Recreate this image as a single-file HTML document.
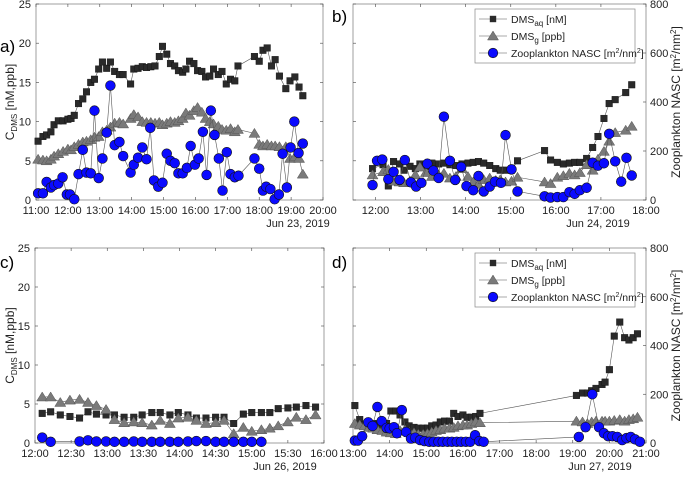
<!DOCTYPE html>
<html><head><meta charset="utf-8">
<style>
body{margin:0;background:#fff;}
svg{font-family:"Liberation Sans",sans-serif;}
</style></head>
<body>
<svg id="fig" width="685" height="476" viewBox="0 0 685 476" xmlns="http://www.w3.org/2000/svg"></svg>
<script>
// ---- Panel a (minutes after 11:00; DMS in nM/ppb; NASC scaled to left axis) ----
const aTimes = [4,13,20,28,34,42,51,60,66,72,80,88,95,103,110,118,125,133,140,148,157,164,178,184,192,200,208,216,224,232,238,246,253,261,268,276,282,289,297,304,312,319,327,334,343,350,358,366,374,380,411,420,427,435,443,450,458,470,478,487,495,502];
const aDmsAq = [7.5,8.1,8.3,8.7,9.6,10.1,10.1,10.3,10.4,10.8,12.3,12.9,13.8,15.0,15.4,16.7,17.6,16.8,17.6,16.4,16.0,16.0,14.8,16.7,16.8,17.0,16.9,17.0,17.1,18.3,19.6,18.6,17.4,17.1,16.5,16.3,16.7,17.7,17.4,16.5,16.4,15.7,15.8,16.7,16.0,16.4,14.8,15.4,15.2,17.1,18.3,17.7,19.1,19.4,17.1,17.9,15.8,14.2,15.2,15.7,14.4,13.3];
const aDmsG = [5.2,5.1,5.0,5.2,5.6,5.9,6.2,6.5,6.4,6.8,7.1,7.4,7.5,7.7,8.0,8.1,8.7,8.9,9.3,9.8,9.9,9.7,10.4,10.9,10.6,10.0,9.9,9.9,9.8,9.9,9.6,9.8,10.0,9.9,10.1,10.4,11.1,10.8,11.4,11.8,11.2,10.4,10.0,9.7,9.4,9.0,8.9,9.1,8.7,9.0,8.5,7.1,6.9,7.1,6.9,6.9,6.8,6.8,5.3,5.5,5.3,3.3];
const aZooTimes = [4,13,20,28,34,42,50,58,64,72,80,88,95,103,110,118,125,133,140,148,157,164,178,184,192,200,208,215,222,230,238,246,253,261,268,276,284,291,299,306,314,321,329,336,344,351,359,366,374,381,411,420,427,433,441,449,457,464,472,479,486,494,502];
const aZoo = [0.85,0.85,2.3,1.6,1.9,2.1,2.9,0.7,0.7,0.1,3.3,6.4,3.5,3.4,11.4,2.8,5.3,8.6,14.6,7.0,7.4,5.6,3.5,4.5,5.4,6.7,5.2,9.2,2.5,1.7,2.2,5.9,5.0,4.7,3.4,3.4,4.1,6.9,4.5,5.3,8.7,3.2,11.4,8.3,5.3,1.2,6.1,3.3,2.9,3.1,5.3,4.0,1.2,1.7,1.4,0.1,0.7,5.9,1.6,6.7,10.0,6.0,7.2];
// ---- Panel b (minutes after 11:30; DMS nM; NASC m2/nm2) ----
const bTimes = [26,40,47,54,62,68,76,83,89,97,105,114,121,129,137,145,153,160,167,174,182,190,196,203,211,219,255,263,272,280,288,295,302,311,319,326,334,341,349,363,371];
const bDmsAq = [4.0,4.5,1.8,4.9,4.6,3.8,4.3,4.0,4.6,4.3,4.7,4.6,4.7,4.5,4.4,4.6,4.7,4.8,4.9,4.7,4.4,4.0,3.8,3.8,3.8,5.0,6.3,5.1,4.8,4.6,4.7,4.8,4.8,5.3,6.7,8.1,10.4,12.3,12.8,13.7,14.7];
const bDmsG = [3.2,3.6,3.9,2.4,2.3,2.2,2.4,3.2,4.2,3.5,3.0,3.2,3.4,2.8,3.0,4.0,3.0,2.3,2.0,2.6,2.8,2.5,2.6,2.3,2.4,2.9,2.3,2.1,2.9,3.1,3.4,3.2,3.5,4.5,3.8,5.2,6.2,7.5,8.6,8.9,9.4];
const bZooTimes = [26,32,39,47,54,62,69,77,84,91,99,107,114,121,129,136,144,151,160,167,174,182,189,197,203,211,219,255,263,272,280,288,295,302,311,319,326,334,341,349,357,364,371];
const bZoo = [61,160,165,85,115,82,163,72,55,70,148,120,90,340,160,82,135,57,40,98,35,55,75,70,265,125,35,15,10,12,12,32,25,40,50,152,140,150,270,158,75,172,100];
// ---- Panel c (minutes after 12:00) ----
const cTimes = [6,13,21,29,37,44,51,59,66,74,82,89,97,104,112,119,127,134,142,150,157,165,173,180,188,195,202,210,217,225,233];
const cDmsAq = [3.8,4.0,3.6,3.4,3.2,4.0,3.7,3.6,3.6,3.3,3.3,3.6,3.9,3.9,3.6,3.9,3.6,3.2,3.2,3.3,3.3,2.5,3.7,3.9,3.9,3.9,4.4,4.5,4.6,4.8,4.6];
const cDmsG = [5.9,5.9,5.2,5.5,5.6,5.2,4.8,4.3,3.0,2.6,2.7,2.6,2.3,2.9,2.5,3.2,3.3,2.9,2.5,2.6,2.9,1.2,2.0,1.5,1.7,1.9,2.2,2.7,3.3,3.0,3.6];
const cZooTimes = [6,13,37,44,51,59,66,74,82,89,97,104,112,119,127,134,142,150,157,165,173,180,188];
const cZoo = [0.7,0.15,0.2,0.35,0.2,0.2,0.15,0.15,0.2,0.15,0.15,0.15,0.15,0.15,0.2,0.25,0.25,0.15,0.15,0.15,0.15,0.15,0.15];
// ---- Panel d (minutes after 13:00; DMS nM; NASC m2/nm2) ----
const dTimes = [3,11,19,26,33,40,48,55,62,70,77,85,92,100,107,115,122,129,136,143,150,158,165,172,180,187,194,201,208,366,376,384,391,398,408,413,420,428,437,445,452,459,466];
const dDmsAq = [4.8,3.0,2.3,2.2,2.5,2.3,2.2,2.5,4.1,4.1,3.6,2.7,2.2,2.0,1.9,1.9,1.9,2.2,2.3,2.7,2.8,2.8,3.8,3.4,3.6,3.3,3.3,3.4,3.8,6.1,6.4,6.4,6.7,7.0,7.5,7.8,9.4,13.7,15.5,13.5,13.2,13.5,14.0];
const dDmsG = [2.5,2.3,2.2,2.0,1.9,1.7,1.6,1.4,1.3,1.2,1.6,1.7,1.4,1.3,1.1,1.1,1.2,1.4,1.6,1.7,1.9,1.9,2.0,2.2,2.3,2.3,2.5,2.7,2.6,2.8,2.7,2.5,2.7,2.8,2.8,2.8,2.8,2.9,3.0,2.8,3.0,3.1,3.3];
const dZooTimes = [3,8,15,25,32,40,47,55,60,67,72,80,87,95,102,110,117,125,132,140,147,155,162,170,177,185,192,200,207,214,370,381,392,403,411,418,425,433,441,448,455,462,470];
const dZoo = [10,10,28,85,70,148,90,62,60,65,40,135,45,18,22,12,8,5,5,5,5,5,5,5,5,5,5,32,8,5,25,65,200,65,40,28,28,25,12,20,25,15,5];

const leftTicks = [0,5,10,15,20,25];
const rightTicks = [0,200,400,600,800];

const NS = "http://www.w3.org/2000/svg";
const svg = document.getElementById('fig');
function mk(tag, attrs, parent){const e=document.createElementNS(NS,tag);for(const k in attrs)e.setAttribute(k,attrs[k]);(parent||svg).appendChild(e);return e;}

function panel(cfg){
  const g = mk('g',{});
  
  
  const {x0,x1,y0,y1,tmin,tmax,start} = cfg;
  const X = m => x0 + (start*60 + m - tmin*60)/((tmax-tmin)*60)*(x1-x0);
  const YL = v => y1 - v/25*(y1-y0);
  const YR = v => y1 - v/800*(y1-y0);
  const frame = mk('rect',{x:x0,y:y0,width:x1-x0,height:y1-y0,fill:'#fff',stroke:'#888','stroke-width':0.8},g);
  
  
  cfg.xticks.forEach(t=>{
    const px = x0 + (t.h - tmin)/(tmax-tmin)*(x1-x0);
    mk('line',{x1:px,x2:px,y1:y1,y2:y1-3,stroke:'#444','stroke-width':0.6},g);
    mk('line',{x1:px,x2:px,y1:y0,y2:y0+3,stroke:'#444','stroke-width':0.6},g);
    const tx = mk('text',{x:px,y:y1+14,'font-size':11,'text-anchor':'middle',fill:'#222'},g);
    tx.textContent = t.l;
    
    
  });
  const dl = mk('text',{x:cfg.dateX,y:y1+27,'font-size':11,'text-anchor':'middle',fill:'#222'},g);
  dl.textContent = cfg.date;
  
  
  leftTicks.forEach(v=>{
    const py = YL(v);
    mk('line',{x1:x0,x2:x0+3,y1:py,y2:py,stroke:'#444','stroke-width':0.6},g);
    if(!cfg.right){
      const tx = mk('text',{x:x0-5,y:py+4,'font-size':11,'text-anchor':'end',fill:'#222'},g);
      tx.textContent = v;
      
      
    }
  });
  if(cfg.right){
    rightTicks.forEach(v=>{
      const py = YR(v);
      mk('line',{x1:x1,x2:x1-3,y1:py,y2:py,stroke:'#444','stroke-width':0.6},g);
      const tx = mk('text',{x:x1+4,y:py+4,'font-size':11,'text-anchor':'start',fill:'#222'},g);
      tx.textContent = v;
      
      
    });
  } else {
    leftTicks.forEach(v=>{const py=YL(v);mk('line',{x1:x1,x2:x1-3,y1:py,y2:py,stroke:'#444','stroke-width':0.6},g);});
  }
  const zY = cfg.right ? YR : YL;
  function series(times, vals, Y, kind, name){
    const pts = times.map((t,i)=>[X(t),Y(vals[i])]);
    const pl = mk('polyline',{points:pts.map(p=>p.join(',')).join(' '),fill:'none',stroke:'#555','stroke-width':0.6},g);
    
    
    pts.forEach(p=>{
      let m;
      if(kind==='sq') m = mk('rect',{x:p[0]-3.3,y:p[1]-3.3,width:6.6,height:6.6,fill:'#2a2a2a',stroke:'#111','stroke-width':0.4},g);
      else if(kind==='tri') m = mk('polygon',{points:`${p[0]},${p[1]-5} ${p[0]-5.5},${p[1]+4} ${p[0]+5.5},${p[1]+4}`,fill:'#7a7a7a',stroke:'#555','stroke-width':0.5},g);
      else m = mk('circle',{cx:p[0],cy:p[1],r:4.9,fill:'#0a0aff',stroke:'#111','stroke-width':0.6},g);
      
      
    });
  }
  series(cfg.t, cfg.aq, YL, 'sq', 'dms-aq');
  series(cfg.t, cfg.g, YL, 'tri', 'dms-g');
  series(cfg.zt, cfg.z, zY, 'circ', 'zooplankton-nasc');
  const lt = mk('text',{x:cfg.letterX,y:cfg.letterY,'font-size':17,fill:'#000'},g);
  lt.textContent = cfg.letter;
  
  
  if(!cfg.right){
    const cy=(y0+y1)/2;
    const yl = mk('text',{x:14,y:cy,'font-size':12,'text-anchor':'middle',fill:'#222',transform:`rotate(-90 14 ${cy})`},g);
    yl.innerHTML = 'C<tspan font-size="8" dy="3">DMS</tspan><tspan dy="-3"> [nM,ppb]</tspan>';
    
    
  } else {
    const cy=(y0+y1)/2;
    const yl = mk('text',{x:680,y:cy,'font-size':12,'text-anchor':'middle',fill:'#222',transform:`rotate(-90 680 ${cy})`},g);
    yl.innerHTML = 'Zooplankton NASC [m<tspan font-size="8" dy="-4">2</tspan><tspan dy="4">/nm</tspan><tspan font-size="8" dy="-4">2</tspan><tspan dy="4">]</tspan>';
    
    
    const lg = mk('g',{},g);
    
    
    const lx=475, ly=y0+5;
    mk('rect',{x:lx,y:ly,width:160,height:54,fill:'#fff',stroke:'#888','stroke-width':0.7},lg);
    const rows=[['sq','DMS<tspan font-size="8" dy="3">aq</tspan><tspan dy="-3"> [nM]</tspan>'],['tri','DMS<tspan font-size="8" dy="3">g</tspan><tspan dy="-3"> [ppb]</tspan>'],['circ','Zooplankton NASC [m<tspan font-size="7" dy="-4">2</tspan><tspan dy="4">/nm</tspan><tspan font-size="7" dy="-4">2</tspan><tspan dy="4">]</tspan>']];
    rows.forEach((r,i)=>{
      const yy=ly+10+i*17, cx=lx+18;
      const e = mk('g',{},lg);
      
      
      mk('line',{x1:lx+4,x2:lx+32,y1:yy,y2:yy,stroke:'#555','stroke-width':0.6},e);
      if(r[0]==='sq') mk('rect',{x:cx-3.2,y:yy-3.2,width:6.4,height:6.4,fill:'#2a2a2a'},e);
      else if(r[0]==='tri') mk('polygon',{points:`${cx},${yy-5} ${cx-5.5},${yy+4} ${cx+5.5},${yy+4}`,fill:'#7a7a7a',stroke:'#555','stroke-width':0.5},e);
      else mk('circle',{cx:cx,cy:yy,r:4.8,fill:'#0a0aff',stroke:'#111','stroke-width':0.6},e);
      const t = mk('text',{x:lx+36,y:yy+4,'font-size':10.5,fill:'#222'},e);
      t.innerHTML = r[1];
    });
  }
}

function hticks(a,b,step){const r=[];for(let h=a;h<=b+1e-9;h+=step){const hh=Math.floor(h),mm=Math.round((h-hh)*60);r.push({h:h,l:hh+':'+(mm<10?'0'+mm:mm)});}return r;}

panel({name:'panel-a',letter:'a)',letterX:0,letterY:52,x0:36,x1:323,y0:4,y1:200,tmin:11,tmax:20,start:11,xticks:hticks(11,20,1),date:'Jun 23, 2019',dateX:298,t:aTimes,aq:aDmsAq,g:aDmsG,zt:aZooTimes,z:aZoo,right:false});
panel({name:'panel-b',letter:'b)',letterX:332,letterY:22,x0:353,x1:646,y0:4,y1:200,tmin:11.5,tmax:18,start:11.5,xticks:hticks(12,18,1),date:'Jun 24, 2019',dateX:598,t:bTimes,aq:bDmsAq,g:bDmsG,zt:bZooTimes,z:bZoo,right:true});
panel({name:'panel-c',letter:'c)',letterX:0,letterY:268,x0:35,x1:324,y0:248,y1:443,tmin:12,tmax:16,start:12,xticks:hticks(12,16,0.5),date:'Jun 26, 2019',dateX:285,t:cTimes,aq:cDmsAq,g:cDmsG,zt:cZooTimes,z:cZoo,right:false});
panel({name:'panel-d',letter:'d)',letterX:332,letterY:268,x0:353,x1:646,y0:248,y1:443,tmin:13,tmax:21,start:13,xticks:hticks(13,21,1),date:'Jun 27, 2019',dateX:600,t:dTimes,aq:dDmsAq,g:dDmsG,zt:dZooTimes,z:dZoo,right:true});
</script>
</body></html>
